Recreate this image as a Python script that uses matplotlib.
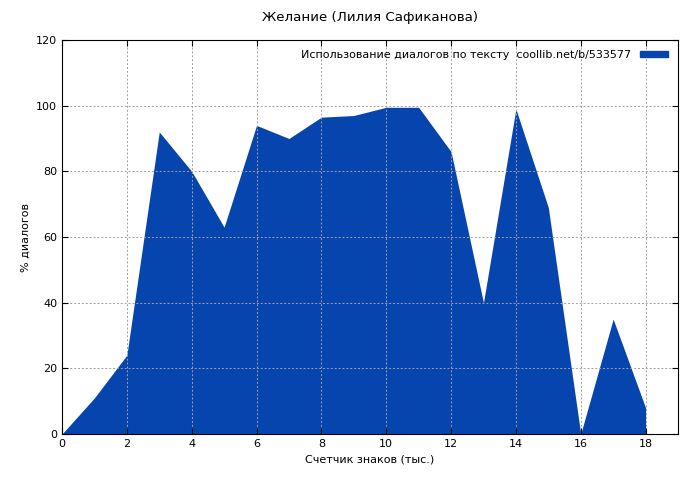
import matplotlib
matplotlib.use("Agg")
import matplotlib.pyplot as plt
from matplotlib.patches import Patch

x_vals = list(range(19))
y_vals = [0, 11, 24, 92, 80, 63, 94, 90, 96.5, 97, 99.5, 99.5, 86, 40, 99, 69, 0, 35, 8]

plt.rcParams['font.family'] = ['DejaVu Sans']
plt.rcParams['font.size'] = 8

fig = plt.figure(figsize=(7, 4.8), dpi=100)
ax = fig.add_axes([62 / 700, 46 / 480, (678 - 62) / 700, (434 - 40) / 480])
ax.fill_between(x_vals, y_vals, 0, color="#0645ad", linewidth=0)
ax.set_xlim(0, 19)
ax.set_ylim(0, 120)
ax.set_xticks(range(0, 19, 2))
ax.set_yticks(range(0, 121, 20))
ax.grid(True, color="#a0a0a0", linestyle=(0, (2, 2)), linewidth=0.7)
ax.tick_params(direction="in", length=4, top=True, right=True)
ax.set_xlabel("Счетчик знаков (тыс.)")
ax.set_ylabel("% диалогов")
ax.set_title("Желание (Лилия Сафиканова)", pad=14)
ax.legend(handles=[Patch(color="#0645ad")],
          labels=["Использование диалогов по тексту  coollib.net/b/533577"],
          loc="upper right", frameon=False, markerfirst=False,
          handlelength=2.5, handleheight=0.5)
fig.savefig("out.png")
